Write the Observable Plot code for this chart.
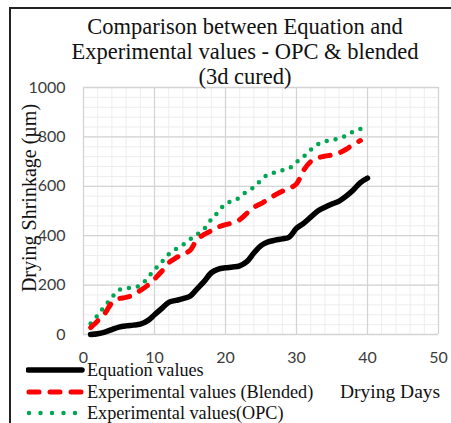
<!DOCTYPE html>
<html>
<head>
<meta charset="utf-8">
<script src="https://cdn.jsdelivr.net/npm/d3@7"></script>
<script src="https://cdn.jsdelivr.net/npm/@observablehq/plot@0.6"></script>
<style>
  html, body { margin: 0; padding: 0; background: #fff; }
  #wrap { position: relative; width: 451px; height: 423px; overflow: hidden; background: #fff; }
  #frame { position: absolute; left: 9px; top: 7px; width: 460px; height: 430px; border-left: 2px solid #222; border-top: 2px solid #222; }
  .serif { font-family: "Liberation Serif", "Times New Roman", Times, "DejaVu Serif", serif; color: #111; position: absolute; white-space: nowrap; }
  #title { left: 40px; width: 410px; top: 14px; text-align: center; font-size: 22.5px; line-height: 25px; }
  #ylab { left: 29px; top: 198px; font-size: 20px; line-height: 22px; transform: translate(-50%, -50%) rotate(-90deg); }
  #xlab { left: 340px; top: 381px; font-size: 19.5px; line-height: 22px; }
  .leg { position: absolute; left: 26px; height: 20px; }
  .legtxt { font-size: 18.2px; line-height: 20px; left: 87px; }
  #chart { position: absolute; left: 0; top: 0; }
</style>
</head>
<body>
<div id="wrap">
  <div id="frame"></div>
  <div id="chart"></div>
  <div id="title" class="serif">Comparison between Equation and<br>Experimental values - OPC &amp; blended<br>(3d cured)</div>
  <div id="ylab" class="serif">Drying Shrinkage (µm)</div>
  <div id="xlab" class="serif">Drying Days</div>
  <svg class="leg" style="top:360px" width="60" height="20"><line x1="2" y1="10" x2="56" y2="10" stroke="#000" stroke-width="5.5" stroke-linecap="round"/></svg>
  <div class="serif legtxt" style="top:360px">Equation values</div>
  <svg class="leg" style="top:382px" width="60" height="20"><line x1="3" y1="10" x2="57" y2="10" stroke="#ff0000" stroke-width="5" stroke-linecap="round" stroke-dasharray="10,11"/></svg>
  <div class="serif legtxt" style="top:382px">Experimental values (Blended)</div>
  <svg class="leg" style="top:403px" width="60" height="20"><line x1="3" y1="10" x2="50" y2="10" stroke="#00a651" stroke-width="4.5" stroke-linecap="round" stroke-dasharray="0,11.5"/></svg>
  <div class="serif legtxt" style="top:403px">Experimental values(OPC)</div>
</div>
<script>
// Drying days
const days = [1,2,3,4,5,6,7,8,9,10,11,12,13,14,15,16,17,18,19,20,21,22,23,24,25,26,27,28,29,30,31,32,33,34,35,36,37,38,39,40];
// Equation values (µm)
const equation = [0,3,10,20,30,35,38,42,55,80,105,130,138,145,155,185,215,250,265,270,273,278,295,330,360,375,382,387,395,430,450,475,500,515,528,540,560,585,615,633];
// Experimental values (Blended), days 1..39
const blended = [28,55,85,128,145,150,160,178,198,225,255,290,310,325,340,385,405,420,435,445,452,465,490,515,530,548,565,580,592,610,665,700,715,722,727,735,750,770,785];
// Experimental values (OPC)
const opc = [45,78,115,150,180,186,192,198,228,262,293,325,346,363,385,405,428,466,497,530,540,555,580,596,625,648,656,665,673,698,720,748,770,782,786,795,805,822,832,842];
// Axis ticks
const xTicks = [0,10,20,30,40,50];
const yTicks = [0,200,400,600,800,1000];

const eqData = days.map((d,i) => ({d, v: equation[i]}));
const blData = blended.map((v,i) => ({d: days[i], v}));
const opData = days.map((d,i) => ({d, v: opc[i]}));
const minorX = d3.range(0, 51, 2);
const minorY = d3.range(0, 1001, 40);
const tickFont = "Lato, 'Liberation Sans', sans-serif";

const chart = Plot.plot({
  width: 451,
  height: 423,
  marginTop: 87,
  marginBottom: 89,
  marginLeft: 83,
  marginRight: 13,
  x: {domain: [0, 50]},
  y: {domain: [0, 1000]},
  style: {background: "transparent", overflow: "visible"},
  marks: [
    Plot.ruleX(minorX, {stroke: "#ededed", strokeWidth: 1}),
    Plot.ruleY(minorY, {stroke: "#ededed", strokeWidth: 1}),
    Plot.ruleX(xTicks, {stroke: "#d4d4d4", strokeWidth: 1.3}),
    Plot.ruleY(yTicks, {stroke: "#d4d4d4", strokeWidth: 1.3}),
    Plot.axisX({ticks: xTicks, tickFormat: d3.format("d"), tickSize: 0, tickPadding: 17, label: null, fontSize: 16, fontFamily: tickFont, fill: "#3c3c3c"}),
    Plot.axisY({ticks: yTicks, tickFormat: d3.format("d"), tickSize: 0, tickPadding: 18, label: null, fontSize: 16, fontFamily: tickFont, fill: "#3c3c3c"}),
    Plot.line(opData, {x: "d", y: "v", stroke: "#00a651", strokeWidth: 4.5, strokeDasharray: "0,9", strokeLinecap: "round", curve: "catmull-rom"}),
    Plot.line(blData, {x: "d", y: "v", stroke: "#ff0000", strokeWidth: 5, strokeDasharray: "10,11", strokeLinecap: "round", curve: "catmull-rom"}),
    Plot.line(eqData, {x: "d", y: "v", stroke: "#000", strokeWidth: 5.5, strokeLinecap: "round", curve: "catmull-rom"})
  ]
});
document.getElementById("chart").appendChild(chart);
</script>
</body>
</html>
